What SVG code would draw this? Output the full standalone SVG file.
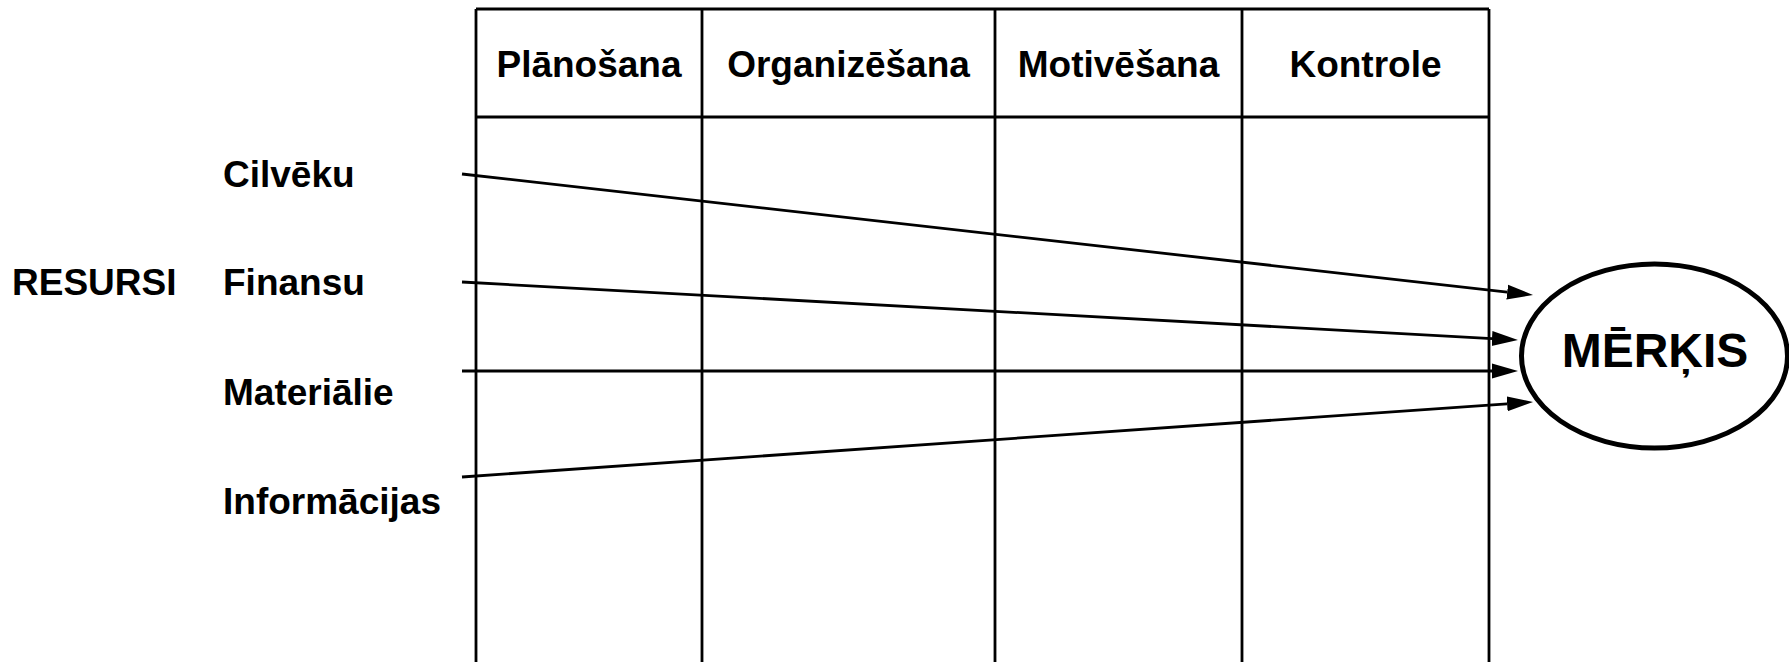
<svg xmlns="http://www.w3.org/2000/svg" width="1789" height="662" viewBox="0 0 1789 662">
  <style>
    text { font-family: "Liberation Sans", Arial, sans-serif; font-weight: bold; fill: #000; }
    .hdr { font-size: 37px; text-anchor: middle; }
    .lbl { font-size: 37px; }
    .grid { stroke: #000; stroke-width: 2.8; fill: none; }
    .conn { stroke: #000; stroke-width: 2.8; fill: none; marker-end: url(#arrow); }
  </style>
  <defs>
    <marker id="arrow" markerUnits="userSpaceOnUse" markerWidth="28" markerHeight="18" viewBox="0 -9 28 18" refX="0" refY="0" orient="auto">
      <path d="M0,-7.5 L26,0 L0,7.5 z" fill="#000"/>
    </marker>
  </defs>
  <rect width="1789" height="662" fill="#fff"/>

  <g id="table">
    <path class="grid" d="M476,9 H1489 M476,117 H1489 M476,9 V662 M702,9 V662 M995,9 V662 M1242,9 V662 M1489,9 V662"/>
  </g>
  <g id="planosana"><text class="hdr" x="589" y="77">Plānošana</text></g>
  <g id="organizesana"><text class="hdr" x="848.5" y="77">Organizēšana</text></g>
  <g id="motivesana"><text class="hdr" x="1118.5" y="77">Motivēšana</text></g>
  <g id="kontrole"><text class="hdr" x="1365.5" y="77">Kontrole</text></g>

  <g id="resursi"><text class="lbl" x="12" y="295">RESURSI</text></g>
  <g id="cilveku"><text class="lbl" x="223" y="187">Cilvēku</text></g>
  <g id="finansu"><text class="lbl" x="223" y="295">Finansu</text></g>
  <g id="materialie"><text class="lbl" x="223" y="405">Materiālie</text></g>
  <g id="informacijas"><text class="lbl" x="223" y="514">Informācijas</text></g>

  <g id="merkis">
    <ellipse cx="1654.5" cy="356" rx="133" ry="92" fill="#fff" stroke="#000" stroke-width="5"/>
    <text x="1655" y="367" font-size="48" text-anchor="middle">MĒRĶIS</text>
  </g>

  <g id="connectors">
    <line class="conn" x1="462" y1="174" x2="1507.2" y2="292.1"/>
    <line class="conn" x1="462" y1="282" x2="1492" y2="338.6"/>
    <line class="conn" x1="462" y1="371" x2="1492" y2="371"/>
    <line class="conn" x1="462" y1="477" x2="1507.1" y2="403.8"/>
  </g>
</svg>
